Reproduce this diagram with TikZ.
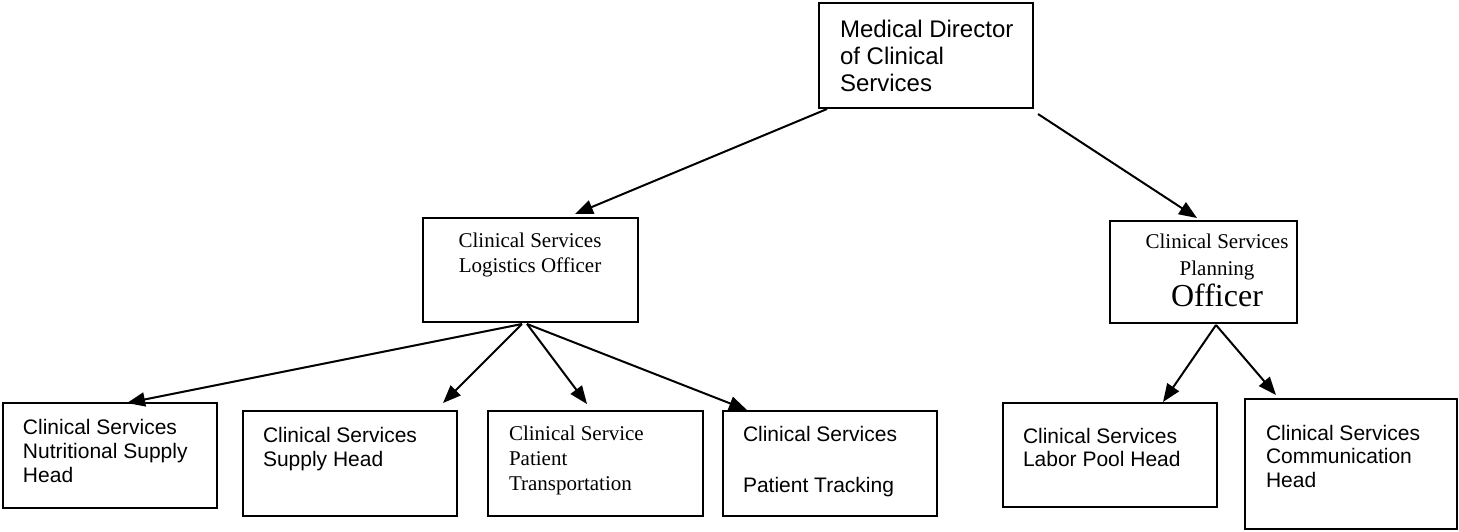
\documentclass[tikz,border=0pt]{standalone}
\usepackage{fontspec}
\setmainfont{Liberation Serif}
\newfontfamily\arialf{Liberation Sans}
\usetikzlibrary{arrows.meta,calc}
\newcommand\lns[2]{\vtop{\baselineskip=#1\lineskiplimit=-100pt\lineskip=0pt #2}}
\newcommand\cl[1]{\hbox to 0pt{\hss #1\hss}}
\begin{document}
\begin{tikzpicture}[x=1pt,y=-1pt,
  box/.style={draw, line width=2pt, inner sep=0pt, outer sep=0pt, anchor=north west},
  txt/.style={inner sep=0pt, outer sep=0pt, anchor=base west},
  ctxt/.style={inner sep=0pt, outer sep=0pt, anchor=base},
  arr/.style={-{Triangle[length=18pt,width=14pt]}, line width=2pt},
  sa/.style={font=\arialf\fontsize{21pt}{24pt}\selectfont},
  st/.style={font=\fontsize{21pt}{24pt}\selectfont}]
\useasboundingbox (0,0) rectangle (1459,531);
% boxes
\node[box, minimum width=214pt, minimum height=105pt] (dir) at (819,3) {};
\node[box, minimum width=215pt, minimum height=104pt] (log) at (423,218) {};
\node[box, minimum width=187pt, minimum height=102pt] (plan) at (1110,221) {};
\node[box, minimum width=214pt, minimum height=105pt] (b1) at (3,403) {};
\node[box, minimum width=214pt, minimum height=105pt] (b2) at (243,411) {};
\node[box, minimum width=215pt, minimum height=105pt] (b3) at (488,411) {};
\node[box, minimum width=214pt, minimum height=105pt] (b4) at (723,411) {};
\node[box, minimum width=214pt, minimum height=104pt] (b5) at (1003,403) {};
\node[box, minimum width=212pt, minimum height=130pt] (b6) at (1245,399) {};
% texts
\node[txt, font=\arialf\fontsize{24pt}{27pt}\selectfont] (tdir) at (840,37)
  {\lns{27pt}{\hbox{Medical Director}\hbox{of Clinical}\hbox{Services}}};
\node[ctxt, st] (tlog) at (530,247)
  {\lns{25pt}{\cl{Clinical Services}\cl{Logistics Officer}}};
\node[ctxt, st] (tplan) at (1217,248)
  {\lns{27pt}{\cl{Clinical Services}\cl{Planning}\baselineskip=31pt\cl{\fontsize{32pt}{36pt}\selectfont Officer}}};
\node[txt, sa] (t1) at (23,434)
  {\lns{24pt}{\hbox{Clinical Services}\hbox{Nutritional Supply}\hbox{Head}}};
\node[txt, sa] (t2) at (263,442)
  {\lns{24pt}{\hbox{Clinical Services}\hbox{Supply Head}}};
\node[txt, st] (t3) at (509,440)
  {\lns{25pt}{\hbox{Clinical Service}\hbox{Patient}\hbox{Transportation}}};
\node[txt, sa] (t4) at (743,441)
  {\lns{25.5pt}{\hbox{Clinical Services}\hbox{}\hbox{Patient Tracking}}};
\node[txt, sa] (t5) at (1023,443)
  {\lns{23pt}{\hbox{Clinical Services}\hbox{Labor Pool Head}}};
\node[txt, sa] (t6) at (1266,440)
  {\lns{23.5pt}{\hbox{Clinical Services}\hbox{Communication}\hbox{Head}}};
% connectors
\draw[arr] ($(dir.south west)+(8,1)$) -- ($(log.north west)+(152,-4)$);
\draw[arr] ($(dir.south east)+(5,6)$) -- ($(plan.north west)+(87,-3)$);
\draw[arr] ($(log.south west)+(99,2)$) -- ($(b1.north west)+(124,0)$);
\draw[arr] ($(log.south west)+(99,2)$) -- ($(b2.north west)+(200,-8)$);
\draw[arr] ($(log.south west)+(104,2)$) -- ($(b3.north west)+(99,-7)$);
\draw[arr] ($(log.south west)+(104,2)$) -- ($(b4.north west)+(24,-1)$);
\draw[arr] ($(plan.south west)+(106,2)$) -- ($(b5.north west)+(160,-1)$);
\draw[arr] ($(plan.south west)+(106,2)$) -- ($(b6.north west)+(31,-4)$);
\end{tikzpicture}
\end{document}
